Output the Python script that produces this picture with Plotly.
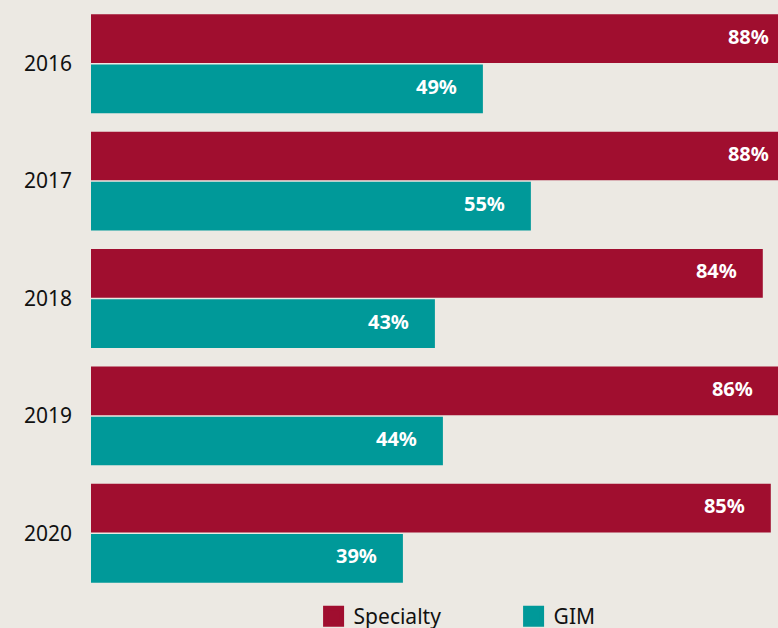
import plotly.graph_objects as go

years = ["2016", "2017", "2018", "2019", "2020"]
specialty = [88, 88, 84, 86, 85]
gim = [49, 55, 43, 44, 39]

RED = "#A00E2F"
TEAL = "#009999"
BG = "#ECE9E3"
FONT = "Noto Sans"
PAD = "\u00a0" * 5

fig = go.Figure()
for name, vals, col in [("Specialty", specialty, RED), ("GIM", gim, TEAL)]:
    fig.add_trace(go.Bar(
        y=years, x=vals, orientation="h", name=name, marker_color=col,
        marker_line_width=0, showlegend=False, hoverinfo="skip",
    ))
for name, vals, col in [("Specialty", specialty, RED), ("GIM", gim, TEAL)]:
    fig.add_trace(go.Scatter(
        y=years, x=vals, orientation="h", mode="text", name=name,
        text=[f"{v}%{PAD}" for v in vals], textposition="middle left",
        cliponaxis=True, showlegend=False, hoverinfo="skip",
        textfont=dict(family=FONT, size=20, color="white", weight="bold"),
    ))
for name, col in [("Specialty", RED), ("GIM", TEAL)]:
    fig.add_trace(go.Scatter(
        x=[None], y=[None], mode="markers", name=name,
        marker=dict(symbol="square", size=16, color=col, line=dict(color=col, width=5)),
    ))

fig.update_layout(
    width=778, height=628,
    margin=dict(l=91, r=0, t=4.5, b=36, autoexpand=False),
    paper_bgcolor=BG, plot_bgcolor=BG,
    barmode="group", bargap=0.145, bargroupgap=0.03,
    scattermode="group", scattergap=0.145,
    font=dict(family=FONT, size=21, color="#111111"),
    xaxis=dict(range=[0, 85.9], visible=False, fixedrange=True),
    yaxis=dict(autorange="reversed", showgrid=False, zeroline=False, showline=False,
               ticks="", ticklabelstandoff=18, tickfont=dict(size=21, color="#111111")),
    legend=dict(orientation="h", x=0.324, xanchor="left", y=-0.0417, yanchor="middle",
                itemsizing="trace", entrywidth=155, entrywidthmode="pixels",
                font=dict(size=21, color="#111111"), bgcolor="rgba(0,0,0,0)"),
)

fig.write_html("out.html")
